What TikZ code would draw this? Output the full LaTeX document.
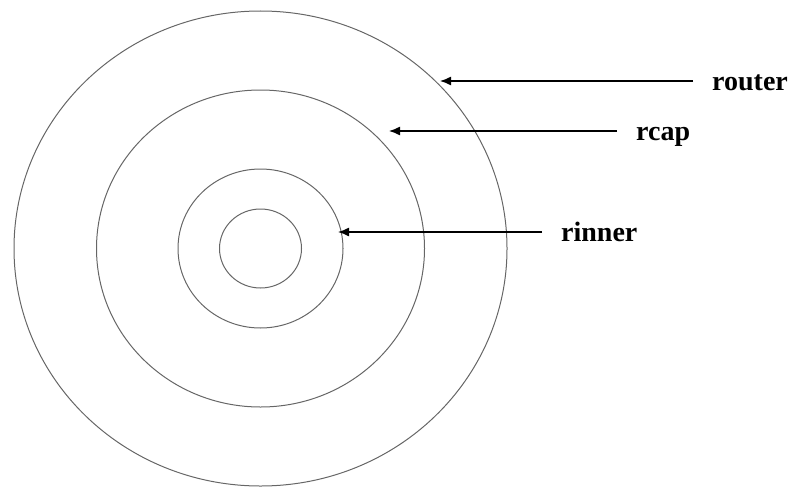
\documentclass[tikz,border=0pt]{standalone}
\usepackage{fontspec}
\setmainfont{Liberation Serif}
\usetikzlibrary{arrows.meta}

\begin{document}
\begin{tikzpicture}[x=1pt, y=-1pt, >={Latex[length=11pt, width=9pt]},
	ring/.style={black!60, line width=1pt},
	pointer/.style={->, line width=1.3pt},
	lbl/.style={anchor=west, inner xsep=19pt, inner ysep=0pt, text height=18pt, text depth=0pt, font=\fontsize{28}{30}\selectfont\bfseries}]
	\useasboundingbox (0,0) rectangle (791,487);
	\coordinate (c) at (260.5,248.5);
	\draw[ring] (c) ellipse (41 and 39.5);
	\draw[ring] (c) ellipse (82.5 and 79.5);
	\draw[ring] (c) ellipse (164 and 158.5);
	\draw[ring] (c) ellipse (246.5 and 237.5);
	\coordinate (outertip) at (440,81);
	\coordinate (captip) at (389,131);
	\coordinate (innertip) at (338,232);
	\node[lbl] (router) at (693,81) {router};
	\node[lbl] (rcap) at (617,131) {rcap};
	\node[lbl] (rinner) at (542,232) {rinner};
	\draw[pointer] (router) -- (outertip);
	\draw[pointer] (rcap) -- (captip);
	\draw[pointer] (rinner) -- (innertip);
\end{tikzpicture}
\end{document}
